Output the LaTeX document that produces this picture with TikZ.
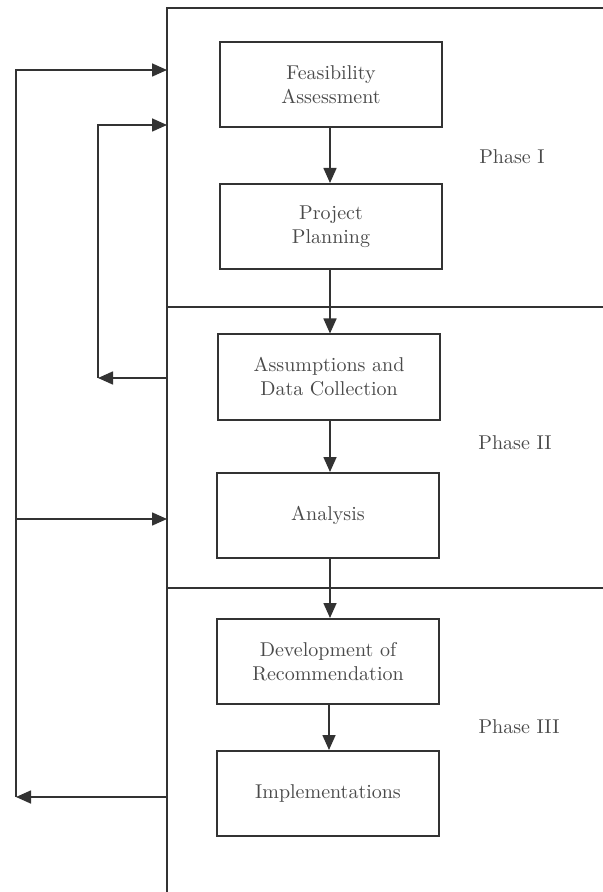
\documentclass[tikz,border=0pt]{standalone}
\usetikzlibrary{arrows.meta,positioning}
\definecolor{linegray}{HTML}{333333}
\definecolor{textgray}{HTML}{4A4A4A}
\tikzset{
  stagebox/.style={draw=linegray, line width=1pt, minimum width=111pt,
    minimum height=42.5pt, inner sep=0pt, align=center, text=textgray},
  phaselabel/.style={text=textgray},
  frameline/.style={draw=linegray, line width=1pt},
  flow/.style={draw=linegray, line width=0.8pt,
    -{Triangle[length=7.5pt,width=6.5pt]}}
}
\begin{document}
\begin{tikzpicture}[x=0.5pt, y=-0.5pt]
    \useasboundingbox (0,0) rectangle (603,892);

    % Frame and phase dividers
    \draw[frameline] (603,8) -- (167,8) -- (167,892);
    \draw[frameline] (167,307.5) -- (603,307.5);
    \draw[frameline] (167,587.5) -- (603,587.5);

    % Stages
    \node[stagebox] (feas) at (331,84.5) {Feasibility\\Assessment};
    \node[stagebox] (plan) at (331,226.5) {Project\\Planning};
    \node[stagebox] (data) at (329,377) {Assumptions and\\Data Collection};
    \node[stagebox] (anal) at (328,515.5) {Analysis};
    \node[stagebox] (recm) at (328,661.5) {Development of\\Recommendation};
    \node[stagebox] (impl) at (328,793.5) {Implementations};

    % Phase labels
    \node[phaselabel] (ph1) at (512,157) {Phase I};
    \node[phaselabel] (ph2) at (515,443) {Phase II};
    \node[phaselabel] (ph3) at (519,727) {Phase III};

    % Flow between stages
    \draw[flow] (feas.south -| 330,0) -- (plan.north -| 330,0);
    \draw[flow] (plan.south -| 330,0) -- (data.north -| 330,0);
    \draw[flow] (data.south -| 330,0) -- (anal.north -| 330,0);
    \draw[flow] (anal.south -| 330,0) -- (recm.north -| 330,0);
    \draw[flow] (recm.south -| 329,0) -- (impl.north -| 329,0);

    % Feedback loops on the frame
    \coordinate (feasin) at (167,70);
    \coordinate (planin) at (167,125);
    \coordinate (dataout) at (167,378);
    \coordinate (analin) at (167,519);
    \coordinate (implout) at (167,797);
    \coordinate (outerend) at (16,797);
    \coordinate (outertap) at (16,519);
    \coordinate (innerend) at (98,378);

    \draw[flow] (implout) -- (outerend);
    \draw[flow] (outerend) |- (feasin);
    \draw[flow] (outertap) -- (analin);
    \draw[flow] (dataout) -- (innerend);
    \draw[flow] (innerend) |- (planin);
  \end{tikzpicture}
\end{document}
